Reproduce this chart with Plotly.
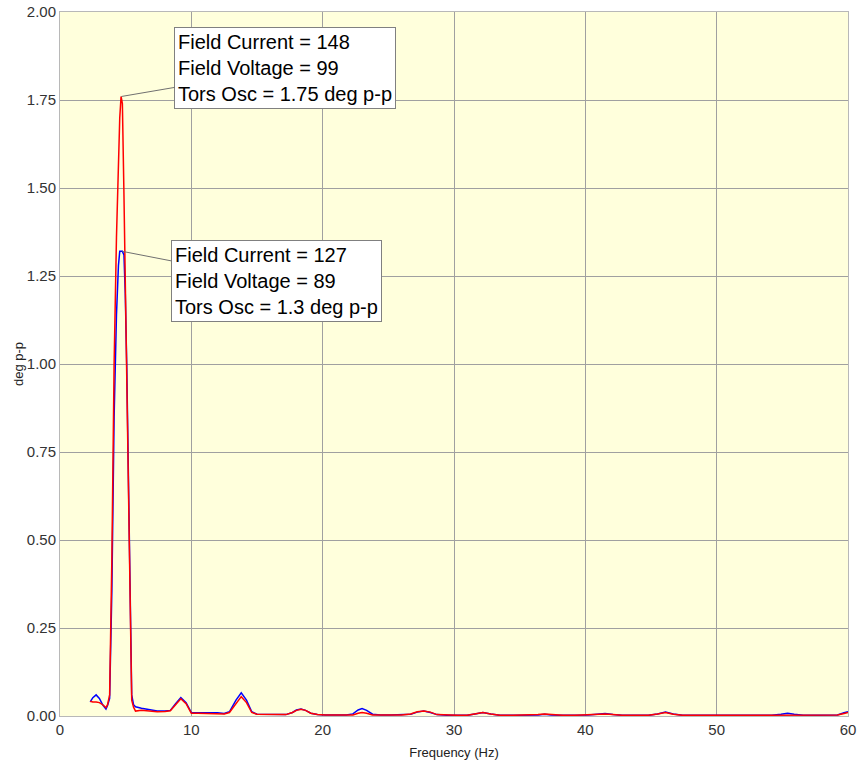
import plotly.graph_objects as go

freq = [2.3, 2.5, 2.75, 3.0, 3.25, 3.5, 3.62, 3.78, 3.95, 4.12, 4.3, 4.45, 4.55, 4.65, 4.75, 4.87, 4.97, 5.08, 5.28, 5.46,
        5.6, 5.75, 6.2, 6.8, 7.4, 8.0, 8.4, 8.8, 9.2, 9.6, 10.0, 10.5, 11.0, 11.5, 12.0, 12.5, 12.9, 13.4, 13.8, 14.2,
        14.6, 15.0, 15.8, 16.5, 17.2, 17.7, 18.0, 18.35, 18.7, 19.1, 19.6, 20.2, 21.0, 21.8, 22.3, 22.7, 23.0, 23.35, 23.8, 24.4,
        25.2, 26.0, 26.7, 27.2, 27.7, 28.2, 28.7, 29.5, 30.3, 31.0, 31.6, 32.2, 32.8, 33.5, 34.5, 35.5, 36.4, 36.9, 37.4, 38.3,
        39.2, 40.2, 40.9, 41.5, 42.1, 42.8, 43.8, 44.8, 45.5, 46.1, 46.7, 47.4, 48.4, 49.4, 50.2, 50.7, 51.2, 52.2, 53.2, 54.2,
        54.9, 55.4, 55.9, 56.6, 57.5, 58.4, 59.2, 59.7, 60.0]

blue_127A = [0.040, 0.052, 0.060, 0.050, 0.032, 0.020, 0.030, 0.050, 0.36, 0.85, 1.14, 1.28, 1.32, 1.32, 1.32, 1.31, 1.20, 1.00, 0.48, 0.060,
             0.032, 0.026, 0.022, 0.018, 0.014, 0.014, 0.016, 0.035, 0.052, 0.038, 0.010, 0.009, 0.009, 0.010, 0.009, 0.007, 0.012, 0.045, 0.066, 0.045,
             0.012, 0.005, 0.004, 0.004, 0.004, 0.010, 0.017, 0.020, 0.016, 0.008, 0.004, 0.003, 0.003, 0.003, 0.006, 0.017, 0.021, 0.016, 0.005, 0.003,
             0.003, 0.003, 0.005, 0.011, 0.014, 0.010, 0.004, 0.002, 0.003, 0.002, 0.006, 0.010, 0.006, 0.002, 0.002, 0.002, 0.003, 0.005, 0.003, 0.002,
             0.002, 0.003, 0.005, 0.007, 0.004, 0.002, 0.002, 0.002, 0.006, 0.011, 0.006, 0.002, 0.002, 0.002, 0.003, 0.004, 0.002, 0.002, 0.002, 0.002,
             0.005, 0.008, 0.005, 0.002, 0.002, 0.002, 0.003, 0.009, 0.012]

red_148A = [0.042, 0.040, 0.040, 0.038, 0.032, 0.024, 0.032, 0.060, 0.45, 1.00, 1.36, 1.58, 1.70, 1.76, 1.74, 1.48, 1.22, 1.00, 0.48, 0.045,
            0.025, 0.014, 0.016, 0.014, 0.012, 0.013, 0.015, 0.032, 0.049, 0.035, 0.008, 0.008, 0.008, 0.008, 0.008, 0.006, 0.010, 0.035, 0.055, 0.038,
            0.010, 0.005, 0.004, 0.004, 0.004, 0.010, 0.016, 0.019, 0.016, 0.008, 0.004, 0.003, 0.003, 0.003, 0.003, 0.008, 0.010, 0.008, 0.003, 0.003,
            0.003, 0.003, 0.006, 0.012, 0.014, 0.011, 0.004, 0.002, 0.002, 0.002, 0.006, 0.010, 0.006, 0.002, 0.002, 0.002, 0.004, 0.006, 0.004, 0.002,
            0.002, 0.003, 0.005, 0.006, 0.004, 0.002, 0.002, 0.002, 0.006, 0.010, 0.005, 0.002, 0.002, 0.002, 0.003, 0.004, 0.002, 0.002, 0.002, 0.002,
            0.003, 0.004, 0.003, 0.002, 0.002, 0.002, 0.003, 0.007, 0.010]

label_hi = "Field Current = 148<br>Field Voltage = 99<br>Tors Osc = 1.75 deg p-p"
label_lo = "Field Current = 127<br>Field Voltage = 89<br>Tors Osc = 1.3 deg p-p"
peak_hi = (4.68, 1.76)
peak_lo = (4.75, 1.32)

FONT = "Liberation Sans, Arial, sans-serif"

fig = go.Figure()
fig.add_trace(go.Scatter(x=freq, y=blue_127A, mode="lines", line=dict(color="#0000FF", width=1.5), showlegend=False))
fig.add_trace(go.Scatter(x=freq, y=red_148A, mode="lines", line=dict(color="#FF0000", width=1.5), showlegend=False))

for (px, py), txt, ax, ay in [(peak_hi, label_hi, 164, -28), (peak_lo, label_lo, 154, 30)]:
    fig.add_annotation(x=px, y=py, xref="x", yref="y", text=txt, showarrow=True, arrowhead=0,
                       arrowcolor="#707070", arrowwidth=1, ax=ax, ay=ay, align="left",
                       bgcolor="white", bordercolor="#808080", borderwidth=1, borderpad=3,
                       font=dict(family=FONT, size=20, color="black"))

fig.update_layout(
    width=858, height=760,
    margin=dict(l=60, r=10, t=12, b=44),
    paper_bgcolor="white", plot_bgcolor="#FFFFDC",
    font=dict(family=FONT, color="#333333"),
    xaxis=dict(range=[0, 60], dtick=10, tick0=0, showgrid=True, gridcolor="#A0A0A0", gridwidth=1,
               zeroline=False, showline=True, linecolor="#B8B8B8", mirror=True, ticks="", automargin=False,
               tickfont=dict(size=15, color="#333333"),
               title=dict(text="Frequency (Hz)", font=dict(size=13, color="#222222"), standoff=10)),
    yaxis=dict(range=[0, 2], dtick=0.25, tick0=0, tickformat=".2f", showgrid=True, gridcolor="#A0A0A0", gridwidth=1,
               zeroline=False, showline=True, linecolor="#B8B8B8", mirror=True, ticks="", automargin=False,
               tickfont=dict(size=15, color="#333333"),
               title=dict(text="deg p-p", font=dict(size=13, color="#222222"), standoff=0)),
)

fig.write_html("out.html")
